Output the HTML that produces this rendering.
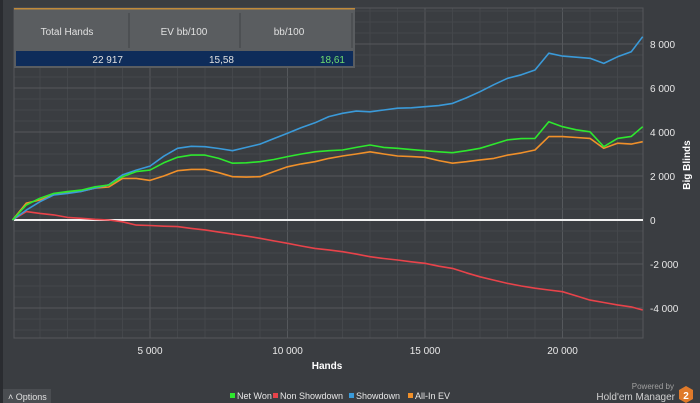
<!DOCTYPE html>
<html><head><meta charset="utf-8"><style>
body{margin:0;width:700px;height:403px;background:#3a3d41;overflow:hidden;font-family:"Liberation Sans",sans-serif;}
svg{position:absolute;left:0;top:0}
</style></head><body>
<svg id="c" width="700" height="403"></svg>
<script>
const hands=[0,500,1000,1500,2000,2500,3000,3500,4000,4500,5000,5500,6000,6500,7000,7500,8000,8500,9000,9500,10000,10500,11000,11500,12000,12500,13000,13500,14000,14500,15000,15500,16000,16500,17000,17500,18000,18500,19000,19500,20000,20500,21000,21500,22000,22500,22917];
const showdown=[0,450,830,1140,1210,1300,1450,1600,2050,2270,2450,2900,3260,3350,3330,3250,3150,3300,3450,3700,3940,4200,4420,4700,4850,4950,4920,5000,5080,5100,5150,5200,5300,5550,5830,6150,6440,6600,6820,7580,7450,7400,7350,7120,7420,7650,8330];
const netWon=[0,680,990,1210,1290,1360,1510,1590,1970,2200,2270,2600,2850,2950,2950,2800,2580,2600,2650,2750,2880,3000,3100,3150,3180,3300,3410,3300,3260,3200,3150,3100,3060,3150,3260,3450,3640,3700,3710,4470,4240,4100,4010,3330,3710,3800,4240];
const allInEV=[0,770,910,1150,1250,1300,1450,1500,1890,1890,1800,2000,2240,2300,2300,2150,1970,1950,1970,2200,2420,2550,2650,2800,2910,3000,3100,3000,2910,2880,2850,2700,2580,2650,2730,2800,2950,3050,3180,3790,3790,3750,3710,3260,3490,3450,3560];
const nonShowdown=[0,380,300,230,120,75,30,0,-80,-230,-250,-280,-300,-380,-450,-550,-640,-730,-830,-950,-1060,-1180,-1290,-1360,-1440,-1550,-1670,-1750,-1820,-1900,-1970,-2100,-2200,-2400,-2580,-2730,-2880,-3000,-3100,-3180,-3260,-3450,-3640,-3750,-3860,-3950,-4090];
const xTicks=[5000,10000,15000,20000];
const xTickLabels=["5 000","10 000","15 000","20 000"];
const yTicks=[-4000,-2000,0,2000,4000,6000,8000];
const yTickLabels=["-4 000","-2 000","0","2 000","4 000","6 000","8 000"];

const NS="http://www.w3.org/2000/svg";
const svg=document.getElementById('c');
const L=14,R=643,T=8,B=338;
const X=h=>12.5+h*0.0275;
const Y=v=>220-v*0.022;
function el(t,a,p){const e=document.createElementNS(NS,t);for(const k in a)e.setAttribute(k,a[k]);(p||svg).appendChild(e);return e;}

for(let h=1000;h<=23000;h+=1000){const x=X(h);if(x>R)break;
const g=el('line',{x1:x,x2:x,y1:T,y2:B,stroke:h%5000?'#44474b':'#55585c','stroke-width':1});

}
for(let v=-5000;v<=9500;v+=500){const y=Y(v);if(y<T||y>B)continue;
const g=el('line',{x1:L,x2:R,y1:y,y2:y,stroke:v%2000?'#44474b':'#55585c','stroke-width':1});

}
const fr=el('rect',{x:L,y:T,width:R-L,height:B-T,fill:'none',stroke:'#55585c'});



const z=el('line',{x1:L,x2:R,y1:Y(0),y2:Y(0),stroke:'#f0f0f0','stroke-width':2});



xTicks.forEach((h,i)=>{
const t=el('text',{x:X(h),y:354,fill:'#e8e8e8','font-size':10,'text-anchor':'middle'});t.textContent=xTickLabels[i];

});
yTicks.forEach((v,i)=>{
const t=el('text',{x:650,y:Y(v)+4,fill:'#e8e8e8','font-size':10});t.textContent=yTickLabels[i];

});

function series(arr,color,name){
const d=arr.map((v,i)=>(i?'L':'M')+X(hands[i]).toFixed(1)+' '+Y(v).toFixed(1)).join(' ');
const p=el('path',{d:d,fill:'none',stroke:color,'stroke-width':1.6,'stroke-linejoin':'round'});

}
series(nonShowdown,'#e8434a','non-showdown-line');
series(allInEV,'#f0902a','all-in-ev-line');
series(showdown,'#3a9ad9','showdown-line');
series(netWon,'#2ee82e','net-won-line');

const xt=el('text',{x:327,y:369,fill:'#fff','font-size':10,'font-weight':'bold','text-anchor':'middle'});xt.textContent='Hands';


const yt=el('text',{x:0,y:0,fill:'#fff','font-size':10,'font-weight':'bold','text-anchor':'middle',transform:'translate(690,165) rotate(-90)'});yt.textContent='Big Blinds';



const leg=[['Net Won','#2ee82e',230],['Non Showdown','#e8434a',273],['Showdown','#3a9ad9',349],['All-In EV','#f0902a',408]];
leg.forEach(l=>{
const g=el('g',{});


el('rect',{x:l[2],y:393,width:5,height:5,fill:l[1]},g);
const t=el('text',{x:l[2]+7,y:399,fill:'#e8e8e8','font-size':9},g);t.textContent=l[0];});

const tb=el('g',{});


el('rect',{x:14,y:8,width:341,height:60,fill:'#5a5d60'},tb);
el('rect',{x:14,y:8,width:341,height:1.5,fill:'#c08a3a'},tb);
el('rect',{x:16,y:51,width:337,height:15,fill:'#0e2c5a'},tb);
[129,240,352].forEach(x=>el('line',{x1:x,x2:x,y1:13,y2:48,stroke:'#404346','stroke-width':1},tb));
[['Total Hands',67],['EV bb/100',184],['bb/100',289]].forEach(h=>{const t=el('text',{x:h[1],y:35,fill:'#e0e0e0','font-size':10,'text-anchor':'middle'},tb);t.textContent=h[0];

});
[['22 917',123,'#e0e0e0'],['15,58',234,'#e0e0e0'],['18,61',345,'#6fdc6f']].forEach(h=>{const t=el('text',{x:h[1],y:63,fill:h[2],'font-size':10,'text-anchor':'end'},tb);t.textContent=h[0];

});

const op=el('g',{});


el('rect',{x:3,y:389,width:48,height:14,fill:'#4a4d51'},op);
const ot=el('text',{x:8,y:400,fill:'#e0e0e0','font-size':9},op);ot.textContent='˄  Options';

const ls=el('rect',{x:0,y:0,width:3,height:403,fill:'#2a2c30'});



const br=el('g',{});


let t1=el('text',{x:674,y:389,fill:'#a0a0a0','font-size':8,'text-anchor':'end'},br);t1.textContent='Powered by';
let t2=el('text',{x:675,y:400,fill:'#d0d0d0','font-size':10,'text-anchor':'end'},br);t2.textContent="Hold'em Manager";
el('polygon',{points:'686,386 693,390 693,399 686,403 679,399 679,390',fill:'#e07a2a'},br);
let t3=el('text',{x:686,y:399,fill:'#fff','font-size':10,'font-weight':'bold','text-anchor':'middle'},br);t3.textContent='2';
</script>
</body></html>
